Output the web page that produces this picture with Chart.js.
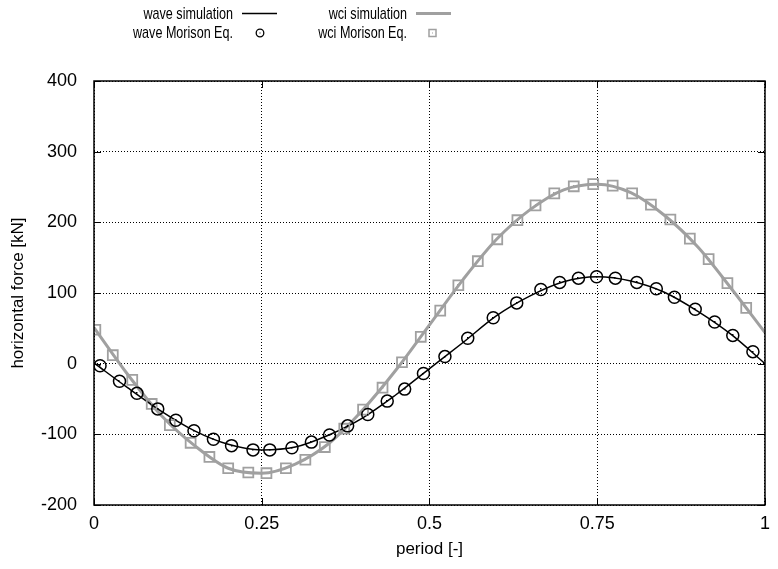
<!DOCTYPE html>
<html>
<head>
<meta charset="utf-8">
<script src="https://cdn.jsdelivr.net/npm/chart.js@4/dist/chart.umd.min.js"></script>
<style>
  html, body { margin: 0; padding: 0; background: #fff; }
  #wrap { width: 778px; height: 569px; }
</style>
</head>
<body>
<div id="wrap"><canvas id="forceChart" width="778" height="569"></canvas></div>
<script>
        // x positions of the simulated curves (fraction of the period)
        const simPeriod = [0, 0.05, 0.1, 0.15, 0.2, 0.25, 0.3, 0.35, 0.4, 0.45, 0.5,
                           0.55, 0.6, 0.65, 0.7, 0.75, 0.8, 0.85, 0.9, 0.95, 1];
        const waveSim = [1, -34, -67, -95, -114, -122, -118, -101, -77, -44, -7,
                         30, 68, 96, 116, 123, 117, 101, 74, 41, 0];
        const wciSim = [51, -15, -73, -116, -148, -155, -142, -113, -66, -9, 55,
                        119, 176, 218, 246, 254, 242, 210, 165, 106, 44];

        // Morison equation points
        const waveMorPeriod = [0.009, 0.038, 0.064, 0.095, 0.122, 0.149, 0.178, 0.205, 0.237, 0.262,
                               0.295, 0.324, 0.351, 0.378, 0.408, 0.437, 0.463, 0.491, 0.523, 0.557,
                               0.595, 0.630, 0.666, 0.694, 0.722, 0.749, 0.777, 0.809, 0.838, 0.865,
                               0.896, 0.925, 0.952, 0.982];
        const waveMor = [-3, -25, -42, -64, -80, -95, -107, -116, -122, -122,
                         -119, -111, -101, -88, -72, -53, -36, -14, 10, 36,
                         65, 86, 105, 115, 121, 123, 121, 115, 106, 94,
                         77, 59, 40, 17];
        const wciMorPeriod = [0.002, 0.028, 0.057, 0.086, 0.113, 0.144, 0.172, 0.200, 0.230, 0.257,
                              0.286, 0.315, 0.344, 0.373, 0.401, 0.430, 0.459, 0.487, 0.516, 0.543,
                              0.572, 0.601, 0.631, 0.658, 0.686, 0.715, 0.744, 0.773, 0.802, 0.830,
                              0.859, 0.888, 0.916, 0.944, 0.972];
        const wciMor = [48, 12, -23, -57, -87, -112, -132, -148, -154, -155,
                        -148, -136, -118, -92, -65, -34, 2, 38, 75, 111,
                        145, 176, 203, 224, 241, 251, 254, 252, 241, 225,
                        204, 177, 148, 114, 79];

        const xTicks = [0, 0.25, 0.5, 0.75, 1];
        const yTicks = [-200, -100, 0, 100, 200, 300, 400];

        const GRAY = '#a0a0a0';
        const FONT = "'Liberation Sans', Arial, sans-serif";

        function toPoints(xs, ys) {
            return xs.map((x, i) => ({ x: x, y: ys[i] }));
        }

        // gnuplot-like frame, inward tics, marker center dots and legend
        const gnuplotLook = {
            id: 'gnuplotLook',
            afterDatasetsDraw(chart) {
                const ctx = chart.ctx;
                const a = chart.chartArea;
                const xs = chart.scales.x, ys = chart.scales.y;
                ctx.save();
                // centre dots of the markers
                [2, 3].forEach(idx => {
                    const meta = chart.getDatasetMeta(idx);
                    ctx.fillStyle = chart.data.datasets[idx].borderColor;
                    meta.data.forEach(pt => {
                        ctx.fillRect(Math.round(pt.x) - 1, Math.round(pt.y) - 1, 1.5, 1.5);
                    });
                });
                // tics
                ctx.strokeStyle = '#000';
                ctx.lineWidth = 1;
                ctx.beginPath();
                yTicks.forEach(v => {
                    const y = Math.round(ys.getPixelForValue(v)) + 0.5;
                    ctx.moveTo(a.left, y); ctx.lineTo(a.left + 7, y);
                    ctx.moveTo(a.right, y); ctx.lineTo(a.right - 7, y);
                });
                xTicks.forEach(v => {
                    const x = Math.round(xs.getPixelForValue(v)) + 0.5;
                    ctx.moveTo(x, a.bottom); ctx.lineTo(x, a.bottom - 7);
                    ctx.moveTo(x, a.top); ctx.lineTo(x, a.top + 7);
                });
                ctx.stroke();
                // frame
                ctx.lineWidth = 1.5;
                ctx.strokeRect(a.left, a.top, a.right - a.left, a.bottom - a.top);
                ctx.restore();
            },
            afterDraw(chart) {
                const ctx = chart.ctx;
                ctx.save();
                ctx.font = "17px " + FONT;
                ctx.fillStyle = '#000';
                ctx.textAlign = 'right';
                ctx.textBaseline = 'middle';
                const rows = [
                    { text: chart.data.datasets[0].label, x: 233, y: 14 },
                    { text: chart.data.datasets[2].label, x: 233, y: 33 },
                    { text: chart.data.datasets[1].label, x: 407, y: 14 },
                    { text: chart.data.datasets[3].label, x: 407, y: 33 }
                ];
                // condensed text, like the gnuplot terminal font
                rows.forEach(r => {
                    ctx.save();
                    ctx.translate(r.x, r.y);
                    ctx.scale(0.74, 1);
                    ctx.fillText(r.text, 0, 0);
                    ctx.restore();
                });
                // line samples
                ctx.lineWidth = 1.5;
                ctx.strokeStyle = '#000';
                ctx.beginPath(); ctx.moveTo(242, 13.5); ctx.lineTo(277, 13.5); ctx.stroke();
                ctx.lineWidth = 3;
                ctx.strokeStyle = GRAY;
                ctx.beginPath(); ctx.moveTo(416, 13.5); ctx.lineTo(451, 13.5); ctx.stroke();
                // marker samples
                ctx.lineWidth = 1.3;
                ctx.strokeStyle = '#000';
                ctx.beginPath(); ctx.arc(260, 33, 3.8, 0, Math.PI * 2); ctx.stroke();
                ctx.fillStyle = '#000';
                ctx.fillRect(259.5, 32.5, 1, 1);
                ctx.strokeStyle = GRAY;
                ctx.lineWidth = 1.5;
                ctx.strokeRect(429, 29.5, 7, 7);
                ctx.fillStyle = GRAY;
                ctx.fillRect(432, 32.5, 1, 1);
                ctx.restore();
            }
        };

        const ctx = document.getElementById('forceChart').getContext('2d');
        const forceChart = new Chart(ctx, {
            type: 'line',
            data: {
                datasets: [{
                    label: 'wave simulation',
                    data: toPoints(simPeriod, waveSim),
                    borderColor: '#000',
                    borderWidth: 1.5,
                    pointRadius: 0,
                    cubicInterpolationMode: 'monotone',
                    order: 3
                }, {
                    label: 'wci simulation',
                    data: toPoints(simPeriod, wciSim),
                    borderColor: GRAY,
                    borderWidth: 3,
                    pointRadius: 0,
                    cubicInterpolationMode: 'monotone',
                    order: 4
                }, {
                    label: 'wave Morison Eq.',
                    data: toPoints(waveMorPeriod, waveMor),
                    borderColor: '#000',
                    backgroundColor: 'rgba(0,0,0,0)',
                    showLine: false,
                    pointStyle: 'circle',
                    pointRadius: 6,
                    pointBorderWidth: 1.5,
                    order: 1
                }, {
                    label: 'wci Morison Eq.',
                    data: toPoints(wciMorPeriod, wciMor),
                    borderColor: GRAY,
                    backgroundColor: 'rgba(0,0,0,0)',
                    showLine: false,
                    pointStyle: 'rect',
                    pointRadius: 7,
                    pointBorderWidth: 1.8,
                    order: 2
                }]
            },
            options: {
                responsive: false,
                animation: false,
                layout: { padding: { top: 81, right: 5, left: 0, bottom: 0 } },
                plugins: {
                    legend: { display: false },
                    tooltip: { enabled: false }
                },
                scales: {
                    x: {
                        type: 'linear',
                        min: 0,
                        max: 1,
                        afterFit: s => { s.height = 64; },
                        afterBuildTicks: s => { s.ticks = xTicks.map(v => ({ value: v })); },
                        ticks: {
                            color: '#000',
                            padding: 8,
                            maxRotation: 0,
                            font: { family: FONT, size: 18 },
                            callback: v => String(v)
                        },
                        grid: {
                            color: '#000',
                            lineWidth: 1,
                            drawTicks: false
                        },
                        border: { display: false, dash: [1, 2] },
                        title: {
                            display: true,
                            text: 'period [-]',
                            color: '#000',
                            font: { family: FONT, size: 17 },
                            padding: { top: 0, bottom: 9 }
                        }
                    },
                    y: {
                        min: -200,
                        max: 400,
                        afterFit: s => { s.width = 94; },
                        afterBuildTicks: s => { s.ticks = yTicks.map(v => ({ value: v })); },
                        ticks: {
                            color: '#000',
                            padding: 17,
                            font: { family: FONT, size: 18 }
                        },
                        grid: {
                            color: '#000',
                            lineWidth: 1,
                            drawTicks: false
                        },
                        border: { display: false, dash: [1, 2] },
                        title: {
                            display: true,
                            text: 'horizontal force [kN]',
                            color: '#000',
                            font: { family: FONT, size: 17 },
                            padding: { top: 8, bottom: 0 }
                        }
                    }
                }
            },
            plugins: [gnuplotLook]
        });
</script>
</body>
</html>
